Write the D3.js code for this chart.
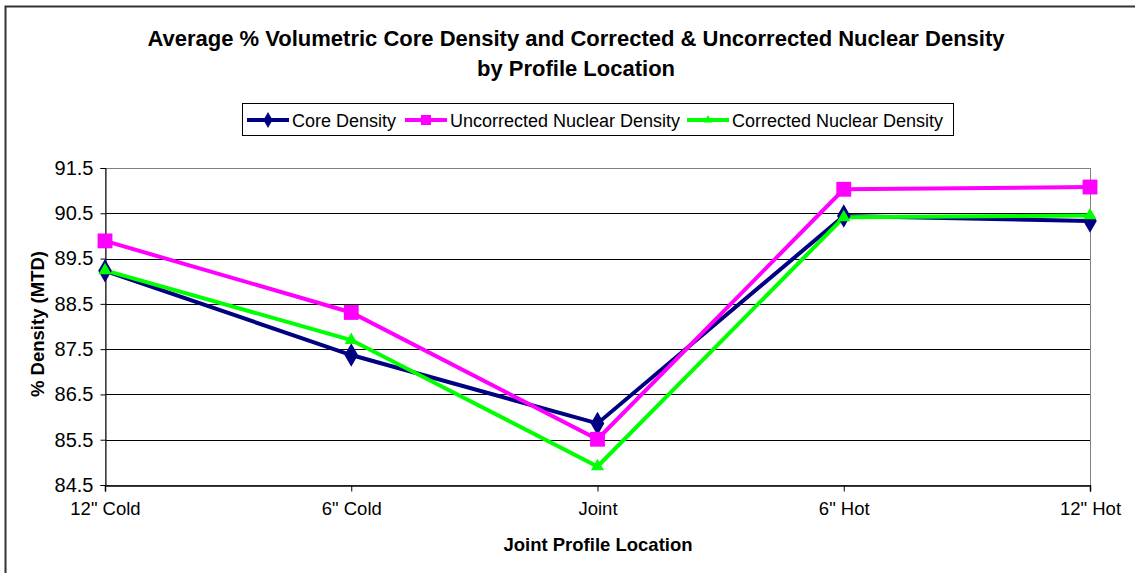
<!DOCTYPE html>
<html><head><meta charset="utf-8">
<script src="https://cdn.jsdelivr.net/npm/d3@7"></script>
<style>
html,body{margin:0;padding:0;background:#fff;}
svg{display:block;font-family:"Liberation Sans",Arial,sans-serif;}
</style></head>
<body>
<svg id="chart" width="1135" height="573"></svg>
<script>
const categories = ['12" Cold', '6" Cold', 'Joint', '6" Hot', '12" Hot'];
const coreDensity = [89.23, 87.37, 85.86, 90.44, 90.33];
const uncorrectedNuclear = [89.89, 88.31, 85.51, 91.03, 91.08];
const correctedNuclear = [89.24, 87.70, 84.91, 90.41, 90.45];
const yTicks = [84.5, 85.5, 86.5, 87.5, 88.5, 89.5, 90.5, 91.5];
const seriesNames = ["Core Density", "Uncorrected Nuclear Density", "Corrected Nuclear Density"];

const series = [
  {name: seriesNames[0], values: coreDensity, color: "#000080", marker: "diamond"},
  {name: seriesNames[1], values: uncorrectedNuclear, color: "#FF00FF", marker: "square"},
  {name: seriesNames[2], values: correctedNuclear, color: "#00FF00", marker: "triangle"}
];

const svg = d3.select("#chart");
const L = 105, R = 1090, T = 168, B = 485;

// outer chart border
svg.append("rect").attr("x", 5.5).attr("y", 6.5).attr("width", 1140).attr("height", 580)
  .attr("fill", "none").attr("stroke", "#333").attr("stroke-width", 2);

const x = d3.scalePoint().domain(categories).range([L, R]);
const y = d3.scaleLinear().domain([84.5, 91.5]).range([B, T]);

// gridlines
svg.append("g").selectAll("line").data(yTicks).join("line")
  .attr("x1", L).attr("x2", R)
  .attr("y1", d => Math.round(y(d)) + 0.5).attr("y2", d => Math.round(y(d)) + 0.5)
  .attr("stroke", "#000").attr("stroke-width", 1);

// plot area border (right/top)
svg.append("rect").attr("x", L + 0.5).attr("y", T + 0.5).attr("width", R - L).attr("height", B - T)
  .attr("fill", "none").attr("stroke", "#808080").attr("stroke-width", 1);

// Y axis
const yAxis = d3.axisLeft(y).tickValues(yTicks).tickFormat(d3.format(".1f")).tickSize(5).tickPadding(7);
const gy = svg.append("g").attr("transform", `translate(${L + 0.5},0)`).call(yAxis);
gy.select(".domain").attr("stroke", "#000");
gy.selectAll(".tick line").attr("stroke", "#000");
gy.selectAll("text").attr("font-size", 20).attr("fill", "#000").attr("font-family", "Liberation Sans, Arial, sans-serif");

// X axis
const xAxis = d3.axisBottom(x).tickSize(6).tickPadding(10);
const gx = svg.append("g").attr("transform", `translate(0,${B + 0.5})`).call(xAxis);
gx.select(".domain").attr("stroke", "#000").attr("stroke-width", 1.5);
gx.selectAll(".tick line").attr("stroke", "#000");
gx.selectAll("text").attr("font-size", 18.5).attr("fill", "#000").attr("font-family", "Liberation Sans, Arial, sans-serif");

// lines
const line = d3.line().x((d, i) => x(categories[i])).y(d => y(d));
const symbolFor = m => m === "diamond" ? d3.symbolDiamond : m === "square" ? d3.symbolSquare : d3.symbolTriangle;
const sizeFor = m => m === "diamond" ? 160 : m === "square" ? 220 : 75;

series.forEach(s => {
  svg.append("path").datum(s.values).attr("d", line)
    .attr("fill", "none").attr("stroke", s.color).attr("stroke-width", 4).attr("stroke-linejoin", "miter");
});
series.forEach(s => {
  svg.append("g").selectAll("path").data(s.values).join("path")
    .attr("transform", (d, i) => `translate(${x(categories[i])},${y(d)})`)
    .attr("d", d3.symbol().type(symbolFor(s.marker)).size(sizeFor(s.marker)))
    .attr("fill", s.color);
});

// Title
const title = svg.append("text").attr("text-anchor", "middle").attr("font-weight", "bold").attr("font-size", 22).attr("fill", "#000");
title.append("tspan").attr("x", 576).attr("y", 46).text("Average % Volumetric Core Density and Corrected & Uncorrected Nuclear Density");
title.append("tspan").attr("x", 576).attr("y", 76).text("by Profile Location");

// Axis titles
svg.append("text").attr("text-anchor", "middle").attr("font-weight", "bold").attr("font-size", 18.5)
  .attr("transform", "translate(44,324) rotate(-90)").text("% Density (MTD)");
svg.append("text").attr("text-anchor", "middle").attr("font-weight", "bold").attr("font-size", 18.5)
  .attr("x", 598).attr("y", 551).text("Joint Profile Location");

// Legend
svg.append("rect").attr("x", 242.5).attr("y", 103.5).attr("width", 711).attr("height", 32)
  .attr("fill", "#fff").attr("stroke", "#000").attr("stroke-width", 1);
const legendX = [247, 405, 687];
series.forEach((s, i) => {
  const g = svg.append("g").attr("transform", `translate(${legendX[i]},120)`);
  g.append("line").attr("x1", 0).attr("x2", 42).attr("y1", 0).attr("y2", 0)
    .attr("stroke", s.color).attr("stroke-width", 4);
  g.append("path").attr("transform", "translate(21,0)")
    .attr("d", d3.symbol().type(symbolFor(s.marker)).size(sizeFor(s.marker) * 0.45)).attr("fill", s.color);
  g.append("text").attr("x", 45).attr("y", 6.5).attr("font-size", 18).attr("fill", "#000").text(s.name);
});
</script>
</body></html>
